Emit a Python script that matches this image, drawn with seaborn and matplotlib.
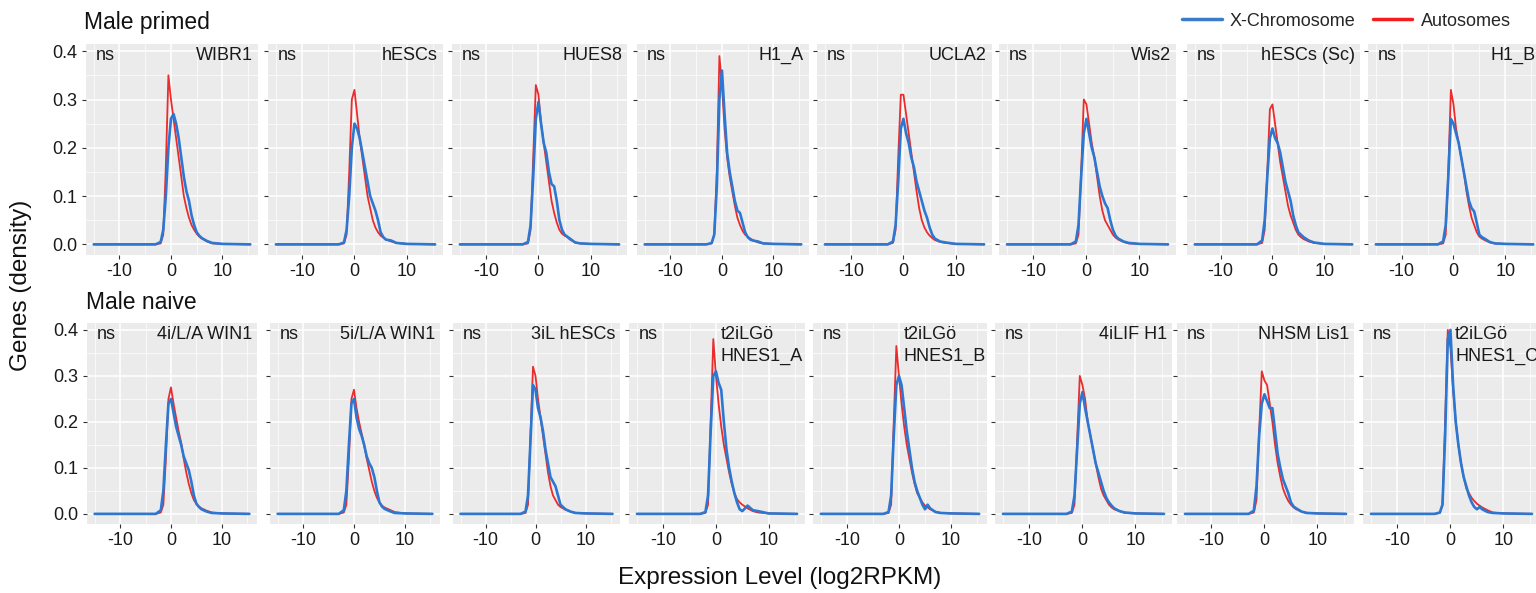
import numpy as np
import pandas as pd
import matplotlib
matplotlib.use("Agg")
import matplotlib.pyplot as plt
from matplotlib.lines import Line2D
from matplotlib.ticker import MultipleLocator
import seaborn as sns

# ---------------- data ----------------
X_GRID = [-15, -3, -2, -1.5, -1, -0.5, 0, 0.5, 1, 1.5, 2, 2.5, 3, 3.5, 4,
          4.5, 5, 5.5, 6, 7, 8, 10, 15.4]

PRIMED_NAMES = ["WIBR1", "hESCs", "HUES8", "H1_A", "UCLA2", "Wis2",
                "hESCs (Sc)", "H1_B"]
NAIVE_NAMES = ["4i/L/A WIN1", "5i/L/A WIN1", "3iL hESCs", "t2iLGö\nHNES1_A",
               "t2iLGö\nHNES1_B", "4iLIF H1", "NHSM Lis1", "t2iLGö\nHNES1_C"]
SIGNIF = "ns"

PRIMED_AUTO = [
    [0, 0, 0.002, 0.02, 0.16, 0.35, 0.30, 0.26, 0.22, 0.18, 0.14, 0.10, 0.075, 0.055, 0.04, 0.03, 0.022, 0.016, 0.012, 0.006, 0.002, 0.001, 0],
    [0, 0, 0.002, 0.02, 0.15, 0.30, 0.32, 0.27, 0.22, 0.18, 0.14, 0.10, 0.075, 0.05, 0.035, 0.025, 0.018, 0.014, 0.010, 0.006, 0.003, 0.001, 0],
    [0, 0, 0.002, 0.03, 0.18, 0.33, 0.31, 0.25, 0.21, 0.17, 0.13, 0.09, 0.065, 0.045, 0.03, 0.022, 0.018, 0.015, 0.01, 0.004, 0.002, 0.001, 0],
    [0, 0, 0.002, 0.02, 0.15, 0.39, 0.33, 0.24, 0.18, 0.14, 0.11, 0.08, 0.055, 0.04, 0.028, 0.02, 0.016, 0.012, 0.009, 0.004, 0.002, 0.001, 0],
    [0, 0, 0.003, 0.03, 0.18, 0.31, 0.31, 0.27, 0.23, 0.19, 0.15, 0.11, 0.075, 0.05, 0.035, 0.025, 0.018, 0.013, 0.009, 0.005, 0.003, 0.001, 0],
    [0, 0, 0.002, 0.02, 0.15, 0.30, 0.29, 0.25, 0.21, 0.18, 0.14, 0.10, 0.07, 0.05, 0.04, 0.03, 0.02, 0.014, 0.01, 0.005, 0.002, 0.001, 0],
    [0, 0, 0.003, 0.03, 0.15, 0.28, 0.29, 0.25, 0.21, 0.17, 0.14, 0.11, 0.08, 0.06, 0.045, 0.03, 0.02, 0.015, 0.011, 0.006, 0.003, 0.001, 0],
    [0, 0, 0.002, 0.02, 0.15, 0.32, 0.29, 0.24, 0.21, 0.18, 0.15, 0.11, 0.08, 0.055, 0.04, 0.025, 0.016, 0.012, 0.009, 0.004, 0.002, 0.001, 0],
]
PRIMED_XCHR = [
    [0, 0, 0.005, 0.03, 0.10, 0.20, 0.26, 0.27, 0.25, 0.22, 0.18, 0.14, 0.11, 0.09, 0.06, 0.04, 0.025, 0.018, 0.013, 0.007, 0.003, 0.001, 0],
    [0, 0, 0.004, 0.03, 0.10, 0.20, 0.25, 0.24, 0.22, 0.19, 0.16, 0.13, 0.10, 0.085, 0.07, 0.05, 0.025, 0.015, 0.010, 0.008, 0.003, 0.001, 0],
    [0, 0, 0.005, 0.04, 0.14, 0.26, 0.295, 0.25, 0.21, 0.19, 0.15, 0.125, 0.12, 0.09, 0.05, 0.03, 0.02, 0.016, 0.012, 0.004, 0.002, 0.001, 0],
    [0, 0, 0.003, 0.02, 0.12, 0.30, 0.36, 0.27, 0.19, 0.15, 0.12, 0.09, 0.07, 0.065, 0.045, 0.025, 0.015, 0.01, 0.008, 0.006, 0.002, 0.001, 0],
    [0, 0, 0.006, 0.04, 0.13, 0.24, 0.26, 0.23, 0.21, 0.18, 0.16, 0.13, 0.11, 0.09, 0.07, 0.055, 0.035, 0.02, 0.012, 0.006, 0.004, 0.001, 0],
    [0, 0, 0.006, 0.04, 0.14, 0.23, 0.26, 0.23, 0.20, 0.18, 0.15, 0.12, 0.10, 0.085, 0.075, 0.05, 0.03, 0.018, 0.012, 0.006, 0.003, 0.001, 0],
    [0, 0, 0.008, 0.05, 0.14, 0.22, 0.24, 0.22, 0.21, 0.19, 0.16, 0.13, 0.11, 0.09, 0.06, 0.04, 0.025, 0.02, 0.015, 0.008, 0.004, 0.001, 0],
    [0, 0, 0.006, 0.04, 0.14, 0.26, 0.25, 0.23, 0.21, 0.18, 0.15, 0.12, 0.09, 0.075, 0.068, 0.045, 0.02, 0.015, 0.012, 0.005, 0.002, 0.001, 0],
]
NAIVE_AUTO = [
    [0, 0, 0.003, 0.02, 0.12, 0.25, 0.275, 0.24, 0.21, 0.18, 0.155, 0.12, 0.09, 0.065, 0.045, 0.03, 0.022, 0.016, 0.012, 0.007, 0.003, 0.001, 0],
    [0, 0, 0.003, 0.02, 0.12, 0.25, 0.27, 0.23, 0.20, 0.175, 0.15, 0.12, 0.095, 0.07, 0.05, 0.035, 0.025, 0.018, 0.014, 0.009, 0.004, 0.001, 0],
    [0, 0, 0.002, 0.02, 0.17, 0.32, 0.30, 0.25, 0.21, 0.17, 0.13, 0.09, 0.06, 0.04, 0.03, 0.02, 0.015, 0.012, 0.009, 0.005, 0.002, 0.001, 0],
    [0, 0, 0.002, 0.02, 0.20, 0.38, 0.30, 0.24, 0.19, 0.15, 0.12, 0.09, 0.065, 0.045, 0.032, 0.025, 0.02, 0.016, 0.012, 0.006, 0.003, 0.001, 0],
    [0, 0, 0.002, 0.02, 0.20, 0.365, 0.30, 0.24, 0.19, 0.15, 0.12, 0.09, 0.065, 0.045, 0.035, 0.025, 0.018, 0.014, 0.01, 0.005, 0.002, 0.001, 0],
    [0, 0, 0.002, 0.02, 0.16, 0.30, 0.28, 0.25, 0.20, 0.17, 0.14, 0.11, 0.08, 0.055, 0.04, 0.03, 0.02, 0.014, 0.01, 0.006, 0.002, 0.001, 0],
    [0, 0, 0.003, 0.03, 0.18, 0.31, 0.29, 0.28, 0.24, 0.20, 0.15, 0.11, 0.08, 0.055, 0.04, 0.028, 0.02, 0.014, 0.01, 0.005, 0.002, 0.001, 0],
    [0, 0, 0.002, 0.02, 0.20, 0.40, 0.36, 0.27, 0.20, 0.15, 0.11, 0.08, 0.055, 0.045, 0.035, 0.028, 0.022, 0.018, 0.014, 0.008, 0.003, 0.001, 0],
]
NAIVE_XCHR = [
    [0, 0, 0.008, 0.05, 0.15, 0.24, 0.25, 0.22, 0.19, 0.17, 0.15, 0.125, 0.11, 0.095, 0.07, 0.04, 0.022, 0.015, 0.01, 0.005, 0.002, 0.001, 0],
    [0, 0, 0.008, 0.05, 0.15, 0.24, 0.25, 0.21, 0.185, 0.17, 0.15, 0.125, 0.11, 0.10, 0.08, 0.05, 0.025, 0.016, 0.011, 0.006, 0.002, 0.001, 0],
    [0, 0, 0.005, 0.04, 0.16, 0.28, 0.27, 0.23, 0.21, 0.18, 0.14, 0.11, 0.08, 0.07, 0.06, 0.04, 0.02, 0.015, 0.01, 0.005, 0.002, 0.001, 0],
    [0, 0, 0.004, 0.04, 0.18, 0.30, 0.31, 0.285, 0.27, 0.20, 0.14, 0.10, 0.07, 0.045, 0.025, 0.01, 0.006, 0.012, 0.018, 0.008, 0.006, 0.001, 0],
    [0, 0, 0.004, 0.04, 0.17, 0.28, 0.30, 0.28, 0.23, 0.18, 0.14, 0.10, 0.07, 0.05, 0.035, 0.02, 0.01, 0.02, 0.012, 0.004, 0.002, 0.001, 0],
    [0, 0, 0.005, 0.04, 0.14, 0.24, 0.265, 0.23, 0.20, 0.17, 0.14, 0.11, 0.09, 0.07, 0.05, 0.035, 0.025, 0.018, 0.012, 0.006, 0.003, 0.001, 0],
    [0, 0, 0.007, 0.06, 0.17, 0.24, 0.26, 0.245, 0.23, 0.23, 0.18, 0.13, 0.10, 0.075, 0.06, 0.045, 0.025, 0.016, 0.012, 0.005, 0.002, 0.001, 0],
    [0, 0, 0.003, 0.02, 0.17, 0.38, 0.40, 0.28, 0.20, 0.15, 0.11, 0.08, 0.06, 0.04, 0.025, 0.015, 0.01, 0.015, 0.01, 0.004, 0.002, 0.001, 0],
]

ROW_TITLES = ["Male primed", "Male naive"]
Y_TICKS = [0.0, 0.1, 0.2, 0.3, 0.4]
X_TICKS = [-10, 0, 10]
XLABEL = "Expression Level (log2RPKM)"
YLABEL = "Genes (density)"
SERIES = ["X-Chromosome", "Autosomes"]

# ---------------- style ----------------
RED = "#EC2B2B"
BLUE = "#2C77D1"
sns.set_theme(style="darkgrid")
plt.rcParams["font.family"] = ["Liberation Sans", "DejaVu Sans"]
plt.rcParams["axes.facecolor"] = "#EBEBEB"
plt.rcParams["axes.unicode_minus"] = False

W, H = 1536, 593
fig = plt.figure(figsize=(W / 100, H / 100), dpi=100)
fig.patch.set_facecolor("white")

# panel boxes in pixels (left, right) per row, and (top, bottom)
ROW_LR = [
    [(86, 258), (268, 443), (452, 627), (637, 809), (817, 992), (999, 1176), (1187, 1360), (1368, 1541)],
    [(87, 257), (270, 440), (453, 620), (629, 805), (813, 987), (995, 1172), (1177, 1354), (1363, 1540)],
]
ROW_TB = [(44, 255), (323, 524)]

rows = [(PRIMED_NAMES, PRIMED_AUTO, PRIMED_XCHR), (NAIVE_NAMES, NAIVE_AUTO, NAIVE_XCHR)]
FS = 13

for r, (names, autos, xchrs) in enumerate(rows):
    top, bot = ROW_TB[r]
    for c in range(8):
        l, rr = ROW_LR[r][c]
        ax = fig.add_axes([l / W, 1 - bot / H, (rr - l) / W, (bot - top) / H])
        ax.set_facecolor("#EBEBEB")
        df_a = pd.DataFrame({"x": X_GRID, "density": autos[c]})
        df_x = pd.DataFrame({"x": X_GRID, "density": xchrs[c]})
        sns.lineplot(data=df_a, x="x", y="density", ax=ax, color=RED,
                     linewidth=1.3, estimator=None, sort=False)
        sns.lineplot(data=df_x, x="x", y="density", ax=ax, color=BLUE,
                     linewidth=1.9, estimator=None, sort=False)
        ax.set_xlim(-16.5, 16.9)
        ax.set_ylim(-0.022, 0.415)
        ax.set_xticks(X_TICKS)
        ax.set_yticks(Y_TICKS)
        ax.xaxis.set_minor_locator(MultipleLocator(5))
        ax.yaxis.set_minor_locator(MultipleLocator(0.05))
        ax.grid(True, which="major", color="white", linewidth=1.1)
        ax.grid(True, which="minor", color="white", linewidth=0.5)
        ax.set_axisbelow(True)
        for s in ax.spines.values():
            s.set_visible(False)
        ax.tick_params(which="major", length=3, width=0.8, color="#333333",
                       labelsize=FS, labelcolor="#1a1a1a", pad=3,
                       bottom=True, left=True)
        ax.tick_params(which="minor", length=0)
        ax.set_xlabel("")
        ax.set_ylabel("")
        if c == 0:
            ax.set_yticklabels([f"{v:.1f}" for v in Y_TICKS])
        else:
            ax.set_yticklabels([])
        ax.text(10 / (rr - l), 0.985, SIGNIF, transform=ax.transAxes,
                ha="left", va="top", fontsize=FS, color="#1a1a1a")
        name = names[c]
        if "\n" in name:
            ax.text(0.52, 0.985, name, transform=ax.transAxes, ha="left",
                    va="top", fontsize=FS, color="#1a1a1a", linespacing=1.4)
        else:
            ax.text(1 - 5 / (rr - l), 0.985, name, transform=ax.transAxes,
                    ha="right", va="top", fontsize=FS, color="#1a1a1a")

# row titles
fig.text(84 / W, 1 - 11 / H, ROW_TITLES[0], ha="left", va="top", fontsize=16.5, color="#111111")
fig.text(86 / W, 1 - 291 / H, ROW_TITLES[1], ha="left", va="top", fontsize=16.5, color="#111111")

# axis titles
fig.text(780 / W, 1 - 578 / H, XLABEL, ha="center", va="center", fontsize=17.5, color="#111111")
fig.text(21 / W, 1 - 285 / H, YLABEL, ha="center", va="center", rotation=90, fontsize=17.5, color="#111111")

# legend
handles = [Line2D([0], [0], color="#3A7CC6", lw=2.5), Line2D([0], [0], color="#F41C1C", lw=2.5)]
fig.legend(handles, SERIES, loc="center left", bbox_to_anchor=(1182 / W, 1 - 21 / H),
           ncol=2, frameon=False, fontsize=FS, handlelength=2.2, handletextpad=0.45,
           columnspacing=0.95, borderaxespad=0, borderpad=0)

fig.savefig("out.png", dpi=100)
